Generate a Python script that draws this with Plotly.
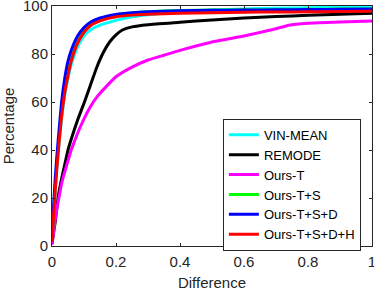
import plotly.graph_objects as go

x_grid = [0, 0.005, 0.01, 0.015, 0.02, 0.03, 0.04, 0.05, 0.06, 0.08, 0.10, 0.12, 0.15,
          0.2, 0.25, 0.3, 0.4, 0.5, 0.6, 0.7, 0.8, 0.9, 1.0]

vin_mean = [2, 13, 23, 32, 40, 53, 63, 70, 75.5, 83, 87.5, 90, 92,
            94, 95.5, 96.4, 97.6, 98.3, 98.8, 99.1, 99.3, 99.5, 99.6]
ours_ts = [2, 14, 25, 34, 42, 56, 66, 73, 78.5, 85.5, 89.8, 92.5, 94.6,
           96.3, 97.1, 97.6, 98.1, 98.3, 98.4, 98.5, 98.6, 98.7, 98.8]
ours_tsd = [2, 17, 28, 37, 45, 60, 70, 77, 81.5, 87.5, 91, 93.2, 95,
            96.5, 97.2, 97.6, 98.0, 98.2, 98.3, 98.4, 98.5, 98.6, 98.7]
ours_tsdh = [2, 13, 23, 32, 40, 54, 64, 71, 77, 84.5, 89, 91.8, 93.8,
             95.5, 96.2, 96.6, 97.0, 97.2, 97.4, 97.5, 97.6, 97.7, 97.8]

x_remode = [0, 0.01, 0.02, 0.03, 0.04, 0.05, 0.06, 0.08, 0.10, 0.12, 0.14, 0.16,
            0.18, 0.2, 0.22, 0.25, 0.3, 0.4, 0.5, 0.6, 0.7, 0.8, 0.9, 1.0]
remode = [1, 10, 21, 28, 34, 40, 44.5, 52.5, 59.5, 67, 74.5, 80.5,
          85, 88, 90, 91.3, 92.2, 93.2, 94.2, 95, 95.6, 96.1, 96.6, 97]

x_ours_t = [0, 0.005, 0.01, 0.015, 0.02, 0.03, 0.04, 0.05, 0.06, 0.07, 0.08, 0.10,
            0.12, 0.14, 0.17, 0.2, 0.25, 0.3, 0.35, 0.4, 0.5, 0.6, 0.65, 0.7,
            0.74, 0.8, 0.9, 1.0]
ours_t = [0.5, 6, 11, 15.5, 19, 26, 31, 35.5, 40, 43.5, 47, 53,
          58, 62, 66.5, 70.5, 74.5, 77.5, 79.5, 81.5, 85, 87.5, 89, 90.5,
          92, 92.8, 93.3, 93.7]

series = [
    ("VIN-MEAN", x_grid, vin_mean, "#00FFFF"),
    ("REMODE", x_remode, remode, "#000000"),
    ("Ours-T", x_ours_t, ours_t, "#FF00FF"),
    ("Ours-T+S", x_grid, ours_ts, "#00FF00"),
    ("Ours-T+S+D", x_grid, ours_tsd, "#0000FF"),
    ("Ours-T+S+D+H", x_grid, ours_tsdh, "#FF0000"),
]

fig = go.Figure()
for name, xs, ys, col in series:
    fig.add_trace(go.Scatter(x=xs, y=ys, mode="lines", name=name,
                             line=dict(color=col, width=3, shape="spline", smoothing=0.4)))

axis_common = dict(showline=True, linecolor="#262626", linewidth=1, mirror="ticks",
                   ticks="inside", ticklen=3, tickcolor="#262626", showgrid=False,
                   zeroline=False, automargin=False, ticklabeloverflow="allow",
                   tickfont=dict(size=15, color="#262626"))

fig.update_layout(
    width=374, height=291,
    margin=dict(l=52, r=2, t=6, b=45),
    plot_bgcolor="white", paper_bgcolor="white",
    font=dict(family="Liberation Sans, Arial, sans-serif", color="#262626"),
    xaxis=dict(range=[0, 1], tickvals=[0, 0.2, 0.4, 0.6, 0.8, 1],
               ticktext=["0", "0.2", "0.4", "0.6", "0.8", "1"], ticklabelstandoff=2,
               title=dict(text="Difference", font=dict(size=15), standoff=11), **axis_common),
    yaxis=dict(range=[0, 100], tickvals=[0, 20, 40, 60, 80, 100],
               title=dict(text="Percentage", font=dict(size=15), standoff=6), **axis_common),
    legend=dict(x=0.534, y=0.53, xanchor="left", yanchor="top",
                bgcolor="white", bordercolor="#262626", borderwidth=1,
                font=dict(size=13, color="#000000"), itemwidth=30,
                tracegroupgap=0),
    showlegend=True,
)

fig.write_html("out.html", config={"displayModeBar": False},
               post_script="document.body.style.margin='0';document.body.style.padding='0';")
